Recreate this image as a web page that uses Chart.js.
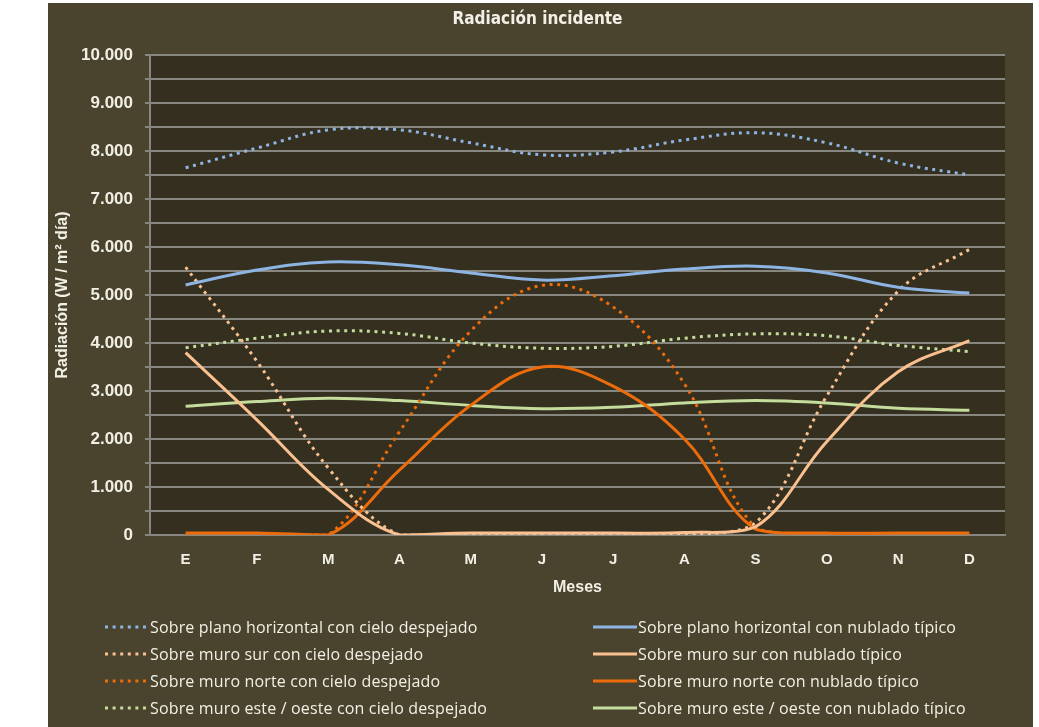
<!DOCTYPE html>
<html>
<head>
<meta charset="utf-8">
<script src="https://cdn.jsdelivr.net/npm/chart.js@4.4.1/dist/chart.umd.min.js"></script>
<style>
  html, body { margin: 0; padding: 0; background: #ffffff; }
  #wrap { position: absolute; left: 48px; top: 3px; width: 985px; height: 724px; background: #4a442e; }
  canvas { display: block; }
</style>
</head>
<body>
<div id="wrap"><canvas id="c"></canvas></div>
<script>
// ---- data ----
const chartTitle = 'Radiación incidente';
const xAxisTitle = 'Meses';
const yAxisTitle = 'Radiación (W / m² día)';
const months = ['E', 'F', 'M', 'A', 'M', 'J', 'J', 'A', 'S', 'O', 'N', 'D'];
const yTickLabels = ['0', '1.000', '2.000', '3.000', '4.000', '5.000', '6.000', '7.000', '8.000', '9.000', '10.000'];

const seriesLabels = [
  'Sobre plano horizontal con cielo despejado',
  'Sobre plano horizontal con nublado típico',
  'Sobre muro sur con cielo despejado',
  'Sobre muro sur con nublado típico',
  'Sobre muro norte con cielo despejado',
  'Sobre muro norte con nublado típico',
  'Sobre muro este / oeste con cielo despejado',
  'Sobre muro este / oeste con nublado típico'
];
const horizClear  = [7650, 8060, 8440, 8440, 8170, 7920, 7980, 8230, 8380, 8170, 7750, 7500];
const horizCloudy = [5210, 5520, 5690, 5630, 5460, 5310, 5400, 5540, 5600, 5460, 5160, 5040];
const southClear  = [5580, 3620, 1400, 0, 0, 0, 0, 0, 250, 2900, 5080, 5950];
const southCloudy = [3800, 2400, 950, 0, 40, 40, 40, 50, 170, 1950, 3400, 4050];
const northClear  = [0, 0, 0, 2150, 4250, 5200, 4750, 3150, 150, 0, 0, 0];
const northCloudy = [40, 40, 0, 1350, 2700, 3500, 3100, 2000, 120, 40, 40, 40];
const eastClear   = [3900, 4100, 4250, 4200, 4000, 3890, 3930, 4100, 4190, 4150, 3950, 3820];
const eastCloudy  = [2680, 2780, 2850, 2800, 2700, 2630, 2660, 2750, 2800, 2750, 2640, 2600];

// ---- styles ----
const BLUE = '#8db4e2', PEACH = '#fac090', ORANGE = '#ec6c0c', GREEN = '#c4dc9c';
const TEXT = '#f2f0e6';
const GRID = '#87867f';
const PLOT_BG = '#342f1f';
const DOT = [3, 4.6];

const seriesData = [horizClear, horizCloudy, southClear, southCloudy, northClear, northCloudy, eastClear, eastCloudy];
const seriesColors = [BLUE, BLUE, PEACH, PEACH, ORANGE, ORANGE, GREEN, GREEN];

const datasets = seriesData.map((d, i) => ({
  label: seriesLabels[i],
  data: d,
  borderColor: seriesColors[i],
  backgroundColor: seriesColors[i],
  borderWidth: 3,
  borderDash: i % 2 === 0 ? DOT : [],
  borderCapStyle: 'butt',
  pointRadius: 0,
  pointHoverRadius: 0,
  tension: 0.38,
  fill: false
}));

const plotBg = {
  id: 'plotBg',
  beforeDraw(chart) {
    const {ctx, chartArea: a} = chart;
    ctx.save();
    ctx.fillStyle = PLOT_BG;
    ctx.fillRect(a.left, a.top, a.right - a.left, a.bottom - a.top);
    ctx.restore();
  }
};

const customText = {
  id: 'customText',
  afterDraw(chart) {
    const ctx = chart.ctx;
    ctx.save();
    // title
    ctx.fillStyle = TEXT;
    ctx.font = "bold 17px 'Liberation Sans Narrow', 'DejaVu Sans Condensed', sans-serif";
    ctx.textAlign = 'center';
    ctx.textBaseline = 'middle';
    ctx.fillText(chartTitle, chart.width / 2 - 3, 17);
    // legend: 2 columns x 4 rows
    ctx.font = "16px 'Open Sans', sans-serif";
    try { ctx.letterSpacing = '0.15px'; } catch (e) {}
    ctx.textAlign = 'left';
    chart.data.datasets.forEach((ds, i) => {
      const col = i % 2, row = Math.floor(i / 2);
      const x = col === 0 ? 57 : 545;
      const y = 624 + row * 27;
      ctx.strokeStyle = ds.borderColor;
      ctx.lineWidth = 3;
      ctx.setLineDash(ds.borderDash);
      ctx.beginPath();
      ctx.moveTo(x, y);
      ctx.lineTo(x + 44, y);
      ctx.stroke();
      ctx.setLineDash([]);
      ctx.fillStyle = TEXT;
      ctx.fillText(ds.label, x + 45, y + 1);
    });
    ctx.restore();
  }
};

new Chart(document.getElementById('c'), {
  type: 'line',
  data: { labels: months, datasets },
  options: {
    responsive: true,
    maintainAspectRatio: false,
    animation: false,
    events: [],
    layout: { padding: { top: 52, right: 28, bottom: 130, left: 0 } },
    plugins: {
      legend: { display: false },
      title: { display: false },
      tooltip: { enabled: false }
    },
    scales: {
      x: {
        type: 'category',
        offset: true,
        grid: { display: false, drawTicks: false },
        border: { display: true, color: GRID, width: 2 },
        ticks: {
          color: TEXT,
          font: { family: "'Liberation Sans', sans-serif", size: 15, weight: 'bold' },
          padding: 16,
          maxRotation: 0,
          autoSkip: false
        },
        title: {
          display: true,
          text: xAxisTitle,
          color: TEXT,
          font: { family: "'Liberation Sans', sans-serif", size: 16, weight: 'bold' },
          padding: { top: 0, bottom: 0 }
        },
        afterFit(scale) { scale.height = 62; }
      },
      y: {
        min: 0,
        max: 10000,
        grid: { color: GRID, lineWidth: 2, tickLength: 5, drawTicks: true },
        border: { display: true, color: GRID, width: 2 },
        ticks: {
          stepSize: 500,
          color: TEXT,
          font: { family: "'Liberation Sans', sans-serif", size: 17, weight: 'bold' },
          padding: 12,
          callback: (v) => (v % 1000 === 0 ? yTickLabels[v / 1000] : '')
        },
        title: {
          display: true,
          text: yAxisTitle,
          color: TEXT,
          font: { family: "'Liberation Sans', sans-serif", size: 16, weight: 'bold' },
          padding: { top: 5, bottom: 0 }
        },
        afterFit(scale) { scale.width = 102; }
      }
    }
  },
  plugins: [plotBg, customText]
});
</script>
</body>
</html>
